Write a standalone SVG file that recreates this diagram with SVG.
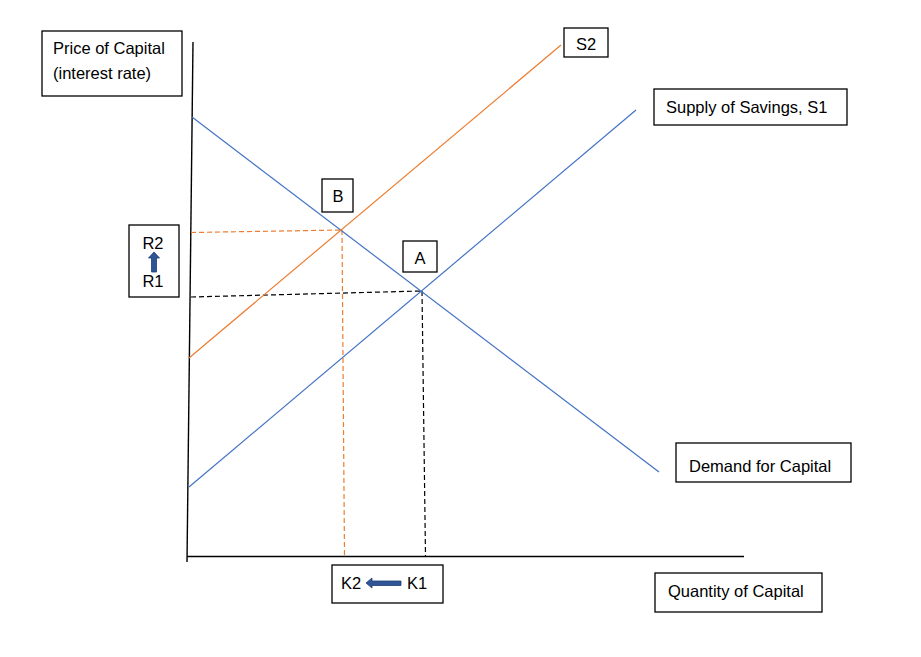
<svg xmlns="http://www.w3.org/2000/svg" width="921" height="657" viewBox="0 0 921 657">
<style>
.box{fill:#fff;stroke:#000;stroke-width:1.3}
.t{font-family:"Liberation Sans",Arial,sans-serif;font-size:16.5px;fill:#000}
.blue{stroke:#4472C4;stroke-width:1.2;fill:none}
.orange{stroke:#ED7D31;stroke-width:1.2;fill:none}
.axis{stroke:#000;stroke-width:1.4;fill:none}
.dashO{stroke:#ED7D31;stroke-width:1.2;stroke-dasharray:5 3;fill:none}
.dashK{stroke:#000;stroke-width:1.2;stroke-dasharray:5 3;fill:none}
.arr{fill:#2F5597;stroke:#203E72;stroke-width:0.8}
</style>
<rect width="921" height="657" fill="#fff"/>
<g id="connectors">
<line class="axis" x1="193" y1="42" x2="187" y2="562"/>
<line class="axis" x1="187" y1="556.5" x2="744" y2="556.5"/>
<line class="dashO" x1="191" y1="232.5" x2="342" y2="230"/>
<line class="dashO" x1="342" y1="230" x2="344.5" y2="556"/>
<line class="dashK" x1="191" y1="297" x2="422" y2="291"/>
<line class="dashK" x1="422" y1="291" x2="425.5" y2="556"/>
<line class="blue" x1="192" y1="117" x2="659" y2="472"/>
<line class="blue" x1="189" y1="487" x2="636" y2="110"/>
<line class="orange" x1="189" y1="358" x2="561" y2="45"/>
</g>
<g id="price-label">
<rect class="box" x="42" y="31" width="140" height="65"/>
<text class="t" x="53" y="54">Price of Capital</text>
<text class="t" x="53" y="79">(interest rate)</text>
</g>
<g id="r-label">
<rect class="box" x="129" y="225" width="50" height="72"/>
<text class="t" x="153" y="249" text-anchor="middle">R2</text>
<text class="t" x="153" y="287" text-anchor="middle">R1</text>
<path class="arr" d="M154,252 L159.5,258 L156.5,258 L156.5,272 L151.5,272 L151.5,258 L148.5,258 Z"/>
</g>
<g id="k-label">
<rect class="box" x="332" y="565" width="111" height="38"/>
<text class="t" x="341" y="589">K2</text>
<text class="t" x="407" y="589">K1</text>
<path class="arr" d="M366,583 L372,578 L372,581 L401,581 L401,585.5 L372,585.5 L372,588 Z"/>
</g>
<g id="s2-label">
<rect class="box" x="564" y="28" width="44" height="29"/>
<text class="t" x="576" y="50">S2</text>
</g>
<g id="s1-label">
<rect class="box" x="654" y="89" width="193" height="36"/>
<text class="t" x="666" y="113">Supply of Savings, S1</text>
</g>
<g id="demand-label">
<rect class="box" x="676" y="443" width="175" height="39"/>
<text class="t" x="689" y="472">Demand for Capital</text>
</g>
<g id="quantity-label">
<rect class="box" x="655" y="573" width="167" height="39"/>
<text class="t" x="668" y="597">Quantity of Capital</text>
</g>
<g id="b-label">
<rect class="box" x="322" y="179" width="31" height="33"/>
<text class="t" x="338" y="202" text-anchor="middle">B</text>
</g>
<g id="a-label">
<rect class="box" x="403" y="241" width="34" height="31"/>
<text class="t" x="420" y="264" text-anchor="middle">A</text>
</g>
</svg>
